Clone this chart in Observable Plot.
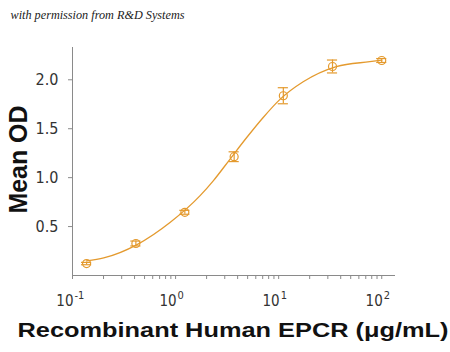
<!DOCTYPE html>
<html>
<head>
<meta charset="utf-8">
<script src="https://cdn.jsdelivr.net/npm/d3@7"></script>
<script src="https://cdn.jsdelivr.net/npm/@observablehq/plot@0.6"></script>
<style>
  html, body { margin: 0; padding: 0; background: #fff; }
  #chart { width: 450px; height: 352px; }
</style>
</head>
<body>
<div id="chart"></div>
<script>
// Measured points (3-fold dilution series)
const conc   = [0.137, 0.412, 1.23, 3.70, 11.1, 33.3, 100];
const meanOD = [0.122, 0.327, 0.646, 1.214, 1.837, 2.136, 2.197];
const sdOD   = [0.012, 0.025, 0.02, 0.05, 0.082, 0.066, 0.02];

// Fitted curve
const fitX = [0.137, 0.201, 0.423, 0.889, 1.73, 2.33, 3.38, 4.90, 7.08, 10.3, 17.3, 36.3, 76.7, 100];
const fitY = [0.15, 0.18, 0.316, 0.544, 0.816, 0.97, 1.19, 1.41, 1.615, 1.80, 1.98, 2.135, 2.185, 2.2];

// Axis ticks
const yTicks = [0.5, 1.0, 1.5, 2.0];
const decades = [0.1, 1, 10, 100];
const exponents = ["-1", "0", "1", "2"];
const minorTicks = [0.1,0.2,0.3,0.4,0.5,0.6,0.7,0.8,0.9,1,2,3,4,5,6,7,8,9,10,20,30,40,50,60,70,80,90,100];

const credit = "with permission from R&D Systems";
const xLabel = "Recombinant Human EPCR (\u03bcg/mL)";
const yLabel = "Mean OD";

const points = conc.map((c, i) => ({x: c, y: meanOD[i], e: sdOD[i]}));
const fit = fitX.map((c, i) => ({x: c, y: fitY[i]}));
const decadeRows = decades.map((d, i) => ({x: d, exp: exponents[i]}));

const orange = "#e49a2e";
const axisGray = "#8a8a8a";
const tickFont = "'Liberation Sans Narrow', 'DejaVu Sans Condensed', 'Arial Narrow', sans-serif";

const plot = Plot.plot({
  width: 450,
  height: 352,
  marginLeft: 72,
  marginRight: 55,
  marginTop: 47,
  marginBottom: 77,
  style: {background: "#fff", overflow: "visible"},
  x: {type: "log", domain: [0.1, 136]},
  y: {domain: [0, 2.33]},
  marks: [
    Plot.ruleY([0], {stroke: axisGray, strokeWidth: 1}),
    Plot.ruleX([0.1], {stroke: axisGray, strokeWidth: 1}),
    Plot.axisY({ticks: yTicks, tickFormat: d3.format(".1f"), tickSize: 4, tickPadding: 10,
      label: null, stroke: axisGray, fill: "#333", fontSize: 16, fontFamily: tickFont}),
    Plot.axisX({ticks: minorTicks, tickFormat: () => "", tickSize: 4, label: null, stroke: axisGray}),
    Plot.text(decadeRows, {x: "x", text: () => "10", frameAnchor: "bottom", textAnchor: "end",
      lineAnchor: "bottom", dy: 30, dx: 1, fontSize: 15, fontFamily: tickFont, fill: "#333"}),
    Plot.text(decadeRows, {x: "x", text: "exp", frameAnchor: "bottom", textAnchor: "start",
      lineAnchor: "bottom", dy: 23, dx: 2, fontSize: 11, fontFamily: tickFont, fill: "#333"}),
    Plot.line(fit, {x: "x", y: "y", stroke: orange, strokeWidth: 1.3, curve: "monotone-x"}),
    Plot.ruleX(points, {x: "x", y1: d => d.y - d.e, y2: d => d.y + d.e, stroke: orange, strokeWidth: 1.2}),
    Plot.ruleY(points, {y: d => d.y + d.e, x1: d => d.x / 1.12, x2: d => d.x * 1.12, stroke: orange, strokeWidth: 1.2}),
    Plot.ruleY(points, {y: d => d.y - d.e, x1: d => d.x / 1.12, x2: d => d.x * 1.12, stroke: orange, strokeWidth: 1.2}),
    Plot.dot(points, {x: "x", y: "y", r: 4, stroke: orange, strokeWidth: 1.2, fill: "none"}),
    Plot.text([credit], {frameAnchor: "top-left", text: d => d, dx: -62, dy: -29, textAnchor: "start",
      lineAnchor: "bottom", fontSize: 13, fontStyle: "italic", fontFamily: "'Liberation Serif', 'DejaVu Serif', serif", fill: "#222"}),
    Plot.text([xLabel], {frameAnchor: "bottom", text: d => d, dx: -1, dy: 61, textAnchor: "middle", lineAnchor: "bottom",
      fontSize: 21, fontWeight: "bold", fontFamily: "'Liberation Sans', Arial, sans-serif", fill: "#111"}),
    Plot.text([yLabel], {frameAnchor: "left", text: d => d, dx: -46, dy: -2, rotate: -90, textAnchor: "middle", lineAnchor: "bottom",
      fontSize: 26, fontWeight: "bold", fontFamily: "'Liberation Sans', Arial, sans-serif", fill: "#111"})
  ]
});

document.getElementById("chart").appendChild(plot);

// stretch the axis titles to the reference's widths
d3.select(plot).selectAll("text").each(function () {
  const t = this.textContent;
  if (t === xLabel) { this.setAttribute("textLength", 431); this.setAttribute("lengthAdjust", "spacingAndGlyphs"); }
  if (t === yLabel) { this.setAttribute("textLength", 108); this.setAttribute("lengthAdjust", "spacingAndGlyphs"); }
  if (t === credit) { this.setAttribute("textLength", 174); this.setAttribute("lengthAdjust", "spacingAndGlyphs"); }
});
</script>
</body>
</html>
